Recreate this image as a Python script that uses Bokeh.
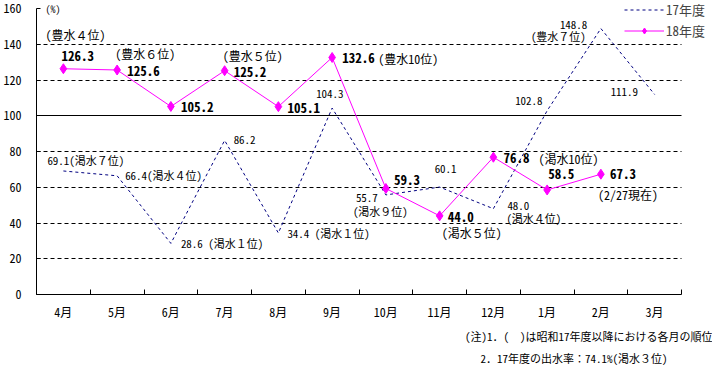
from bokeh.plotting import figure
from bokeh.models import (FixedTicker, Grid, Legend, LegendItem, ColumnDataSource,
                          LinearAxis, CustomJSTickFormatter, Title)
from bokeh.core.properties import value
from bokeh.embed import file_html
from bokeh.resources import INLINE

months = ["4月", "5月", "6月", "7月", "8月", "9月", "10月", "11月", "12月", "1月", "2月", "3月"]
y17 = [69.1, 66.4, 28.6, 86.2, 34.4, 104.3, 55.7, 60.1, 48.0, 102.8, 148.8, 111.9]
y18 = [126.3, 125.6, 105.2, 125.2, 105.1, 132.6, 59.3, 44.0, 76.8, 58.5, 67.3]
yticks = [0, 20, 40, 60, 80, 100, 120, 140, 160]

# label texts for 17年度 (one or two lines per month)
lab17 = ["69.1(渇水７位)", "66.4(渇水４位)", "28.6 (渇水１位)", "86.2", "34.4 (渇水１位)", "104.3",
         "55.7", "60.1", "48.0", "102.8", "148.8", "111.9"]
lab17b_idx = [6, 8, 10]
lab17b = ["(渇水９位)", "(渇水４位)", "(豊水７位)"]
# label texts for 18年度
lab18 = ["126.3", "125.6", "105.2", "125.2", "105.1", "132.6", "59.3", "44.0", "76.8", "58.5", "67.3"]
lab18b_idx = [0, 1, 3, 5, 7, 8, 10]
lab18b = ["(豊水４位)", "(豊水６位)", "(豊水５位)", "(豊水10位)", "(渇水５位)", "(渇水10位)", "(2/27現在)"]
unit_label = "(%)"
notes = ["(注)1．(　)は昭和17年度以降における各月の順位", "2．17年度の出水率：74.1%(渇水３位)"]

# styling offsets (px)
dx17 = [-16, 8, 10, 9, 9, -16, -30, -5, 14, -32, -41, -44]
dy17 = [-11, -1, 0, -1, 0, -15, 3, -19, -3, -10, -4, -3]
dx17b = [-33, 13, -70]
dy17b = [16, 9, 7]
dx18 = [-2, 10, 10, 9, 9, 10, 8, 8, 10, 1, 9]
dy18 = [-13, 1, 1, 1, 1, 1, -9, 1, 1, -16, 0]
dx18b = [-18, -2, -2, 46, 2, 45, -3]
dy18b = [-34, -16, -15, 1, 17, 1, 20]

MONO = "Noto Sans Mono CJK JP"
NCAT = len(months)
xc = [i + 0.5 for i in range(NCAT)]

# layout geometry: frame 36..712 px wide, axes drawn on 36..681 (12 categories)
XR_END = NCAT * 676 / 645
YR_END = 160 * 294 / 286

p = figure(width=712, height=365, x_range=(0, XR_END), y_range=(0, YR_END),
           output_backend="svg", toolbar_location=None,
           min_border_left=36, min_border_right=0, min_border_top=0, min_border_bottom=71)
p.outline_line_color = None
p.background_fill_color = "white"

# grid
p.xgrid.visible = False
p.ygrid.visible = False
g1 = Grid(dimension=1, ticker=FixedTicker(ticks=[20, 40, 60, 80, 120, 140]),
          grid_line_color="black", grid_line_dash="4 3", grid_line_width=1)
g2 = Grid(dimension=1, ticker=FixedTicker(ticks=[100]),
          grid_line_color="black", grid_line_width=1)
for g in (g1, g2):
    g.cross_bounds = (0, NCAT)
    p.add_layout(g, "center")

# y axis
p.yaxis.ticker = FixedTicker(ticks=yticks)
p.yaxis.bounds = (0, 160)
p.yaxis.major_tick_in = 4
p.yaxis.major_tick_out = 0
p.yaxis.minor_tick_line_color = None
p.yaxis.axis_line_color = "black"
p.yaxis.major_tick_line_color = "black"
p.yaxis.major_label_text_font = MONO
p.yaxis.major_label_text_font_size = "12px"
p.yaxis.major_label_text_color = "black"
p.yaxis.major_label_standoff = 15

# x axis (ticks at boundaries)
p.xaxis.ticker = FixedTicker(ticks=list(range(NCAT + 1)))
p.xaxis.bounds = (0, NCAT)
p.xaxis.formatter = CustomJSTickFormatter(code="return ''")
p.xaxis.major_tick_in = 5
p.xaxis.major_tick_out = 0
p.xaxis.minor_tick_line_color = None
p.xaxis.major_label_standoff = 0
p.xaxis.axis_line_color = "black"

max_ = LinearAxis(ticker=FixedTicker(ticks=xc),
                  formatter=CustomJSTickFormatter(args=dict(m=months),
                                                  code="return m[Math.floor(tick)]"))
max_.axis_line_color = None
max_.major_tick_line_color = None
max_.minor_tick_line_color = None
max_.major_label_text_font = MONO
max_.major_label_text_font_size = "12px"
max_.major_label_text_color = "black"
max_.major_label_standoff = 2
p.add_layout(max_, "below")

# lines
r17 = p.line(xc, y17, line_color="#000080", line_width=1, line_dash="3 3")
r18 = p.line(xc[:len(y18)], y18, line_color="#FF00FF", line_width=1)
m18 = p.scatter(xc[:len(y18)], y18, marker="diamond", size=10, fill_color="#FF00FF", line_color="#FF00FF")

# labels 17
s17 = ColumnDataSource(dict(x=xc, y=y17, t=lab17, dx=dx17, dy=dy17))
p.text("x", "y", text="t", x_offset="dx", y_offset="dy", source=s17, text_font=value(MONO),
       text_font_size="11px", text_baseline="middle", text_align="left", text_color="black")
s17b = ColumnDataSource(dict(x=[xc[i] for i in lab17b_idx], y=[y17[i] for i in lab17b_idx],
                             t=lab17b, dx=dx17b, dy=dy17b))
p.text("x", "y", text="t", x_offset="dx", y_offset="dy", source=s17b, text_font=value(MONO),
       text_font_size="11px", text_baseline="middle", text_align="left", text_color="black")
# labels 18
s18 = ColumnDataSource(dict(x=xc[:len(y18)], y=y18, t=lab18, dx=dx18, dy=dy18))
p.text("x", "y", text="t", x_offset="dx", y_offset="dy", source=s18, text_font=value(MONO),
       text_font_size="13px", text_font_style="bold", text_baseline="middle", text_align="left",
       text_color="black")
s18b = ColumnDataSource(dict(x=[xc[i] for i in lab18b_idx], y=[y18[i] for i in lab18b_idx],
                             t=lab18b, dx=dx18b, dy=dy18b))
p.text("x", "y", text="t", x_offset="dx", y_offset="dy", source=s18b, text_font=value(MONO),
       text_font_size="12px", text_baseline="middle", text_align="left", text_color="black")

# unit label "(%)" next to the top of the y axis
p.text([0], [160], text=[unit_label], x_offset=9, y_offset=0, text_font=value(MONO),
       text_font_size="10px", text_baseline="middle", text_align="left", text_color="black")

# legend
leg = Legend(items=[LegendItem(label="17年度", renderers=[r17]),
                    LegendItem(label="18年度", renderers=[r18, m18])],
             location=(588, 254), orientation="vertical")
leg.label_text_font = MONO
leg.label_text_font_size = "13px"
leg.label_text_line_height = 1.0
leg.glyph_width = 40
leg.glyph_height = 15
leg.label_height = 15
leg.label_standoff = 2
leg.spacing = 2
leg.padding = 0
leg.margin = 0
leg.border_line_color = None
leg.background_fill_alpha = 0
p.add_layout(leg, "center")

# notes below the chart
t1 = Title(text=notes[0], align="right", offset=0, standoff=7, text_font=MONO,
           text_font_size="11px", text_font_style="normal", text_color="black",
           text_line_height=0.6)
t2 = Title(text=notes[1], align="left", offset=444, standoff=0, text_font=MONO,
           text_font_size="11px", text_font_style="normal", text_color="black")
p.add_layout(t1, "below")
p.add_layout(t2, "below")

open("out.html", "w").write(file_html(p, INLINE))
